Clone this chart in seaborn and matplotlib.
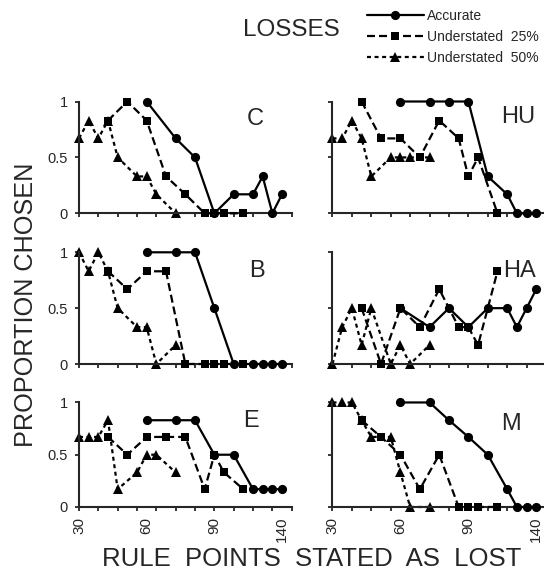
import matplotlib
matplotlib.use("Agg")
import matplotlib.pyplot as plt
import seaborn as sns

# Rule points stated for each condition (nine stimuli per condition)
accurate_pts = [60, 70, 80, 90, 100, 110, 120, 130, 140]
under25_pts = [45, 52.5, 60, 67.5, 75, 82.5, 90, 97.5, 105]
under50_pts = [30, 35, 40, 45, 50, 55, 60, 65, 70]
tick_label_pts = [30, 60, 90, 140]

# Proportion of choices, one list per subject and condition
C_accurate = [1.00, 0.67, 0.50, 0.00, 0.17, 0.17, 0.33, 0.00, 0.17]
C_under25 = [0.83, 1.00, 0.83, 0.33, 0.17, 0.00, 0.00, 0.00, 0.00]
C_under50 = [0.67, 0.83, 0.67, 0.83, 0.50, 0.33, 0.33, 0.17, 0.00]

B_accurate = [1.00, 1.00, 1.00, 0.50, 0.00, 0.00, 0.00, 0.00, 0.00]
B_under25 = [0.83, 0.67, 0.83, 0.83, 0.00, 0.00, 0.00, 0.00, 0.00]
B_under50 = [1.00, 0.83, 1.00, 0.83, 0.50, 0.33, 0.33, 0.00, 0.17]

E_accurate = [0.83, 0.83, 0.83, 0.50, 0.50, 0.17, 0.17, 0.17, 0.17]
E_under25 = [0.67, 0.50, 0.67, 0.67, 0.67, 0.17, 0.50, 0.33, 0.17]
E_under50 = [0.67, 0.67, 0.67, 0.83, 0.17, 0.33, 0.50, 0.50, 0.33]

HU_accurate = [1.00, 1.00, 1.00, 1.00, 0.33, 0.17, 0.00, 0.00, 0.00]
HU_under25 = [1.00, 0.67, 0.67, 0.50, 0.83, 0.67, 0.33, 0.50, 0.00]
HU_under50 = [0.67, 0.67, 0.83, 0.67, 0.33, 0.50, 0.50, 0.50, 0.50]

HA_accurate = [0.50, 0.33, 0.50, 0.33, 0.50, 0.50, 0.33, 0.50, 0.67]
HA_under25 = [0.50, 0.00, 0.50, 0.33, 0.67, 0.33, 0.33, 0.17, 0.83]
HA_under50 = [0.00, 0.33, 0.50, 0.17, 0.50, 0.00, 0.17, 0.00, 0.17]

M_accurate = [1.00, 1.00, 0.83, 0.67, 0.50, 0.17, 0.00, 0.00, 0.00]
M_under25 = [0.83, 0.67, 0.50, 0.17, 0.50, 0.00, 0.00, 0.00, 0.00]
M_under50 = [1.00, 1.00, 1.00, 0.83, 0.67, 0.67, 0.33, 0.00, 0.00]

subjects = ["C", "HU", "B", "HA", "E", "M"]
series_names = ["Accurate", "Understated  25%", "Understated  50%"]
panel_data = {
    "C": (C_accurate, C_under25, C_under50),
    "B": (B_accurate, B_under25, B_under50),
    "E": (E_accurate, E_under25, E_under50),
    "HU": (HU_accurate, HU_under25, HU_under50),
    "HA": (HA_accurate, HA_under25, HA_under50),
    "M": (M_accurate, M_under25, M_under50),
}

# The x axis is ordinal: every distinct stated value gets one slot
levels = sorted(set(accurate_pts) | set(under25_pts) | set(under50_pts))
slot = {v: i for i, v in enumerate(levels)}

sns.set_style("ticks")
plt.rcParams["font.family"] = ["Liberation Sans", "DejaVu Sans"]

fig = plt.figure(figsize=(5.44, 5.80), dpi=100)

col_x = [0.1452, 0.6112]
col_w = [0.391, 0.3925]
row_y = [(0.6322, 0.1928), (0.3724, 0.1926), (0.1259, 0.1802)]
label_xy = {"C": (18.2, 0.84), "B": (18.4, 0.83), "E": (17.8, 0.82),
            "HU": (19.1, 0.865), "HA": (19.3, 0.83), "M": (18.4, 0.79)}

# drawing order: triangles, circles, squares on top
styles = {
    0: dict(marker="o", markersize=6.6, linestyle="-", zorder=3),
    1: dict(marker="s", markersize=6.0, linestyle=(0, (3.6, 1.8)), zorder=4),
    2: dict(marker="^", markersize=7.2, linestyle=(0, (1.8, 1.6)), zorder=2),
}
xs = [accurate_pts, under25_pts, under50_pts]

legend_handles = []
for k, subj in enumerate(subjects):
    r, c = divmod(k, 2)
    b, h = row_y[r]
    ax = fig.add_axes([col_x[c], b, col_w[c], h])
    ax.xaxis.remove_overlapping_locs = False
    vals = panel_data[subj]
    for s in (2, 0, 1):
        sns.lineplot(x=[slot[v] for v in xs[s]], y=vals[s], ax=ax,
                     color="black", linewidth=1.6, markeredgewidth=0,
                     estimator=None, legend=False, clip_on=False,
                     **styles[s])
        if k == 0:
            legend_handles.append((s, ax.lines[-1]))
    ax.set_xlim(0, len(levels))
    ax.set_ylim(0, 1)
    for side in ("top", "right"):
        ax.spines[side].set_visible(False)
    ax.spines["left"].set_bounds(0, 1)
    ax.spines["bottom"].set_bounds(0, len(levels))
    ax.spines["left"].set_linewidth(1.5)
    ax.spines["bottom"].set_linewidth(1.5)
    ax.set_xticks(range(0, len(levels) + 1, 2))
    ax.set_xticklabels([])
    ax.set_xticks([slot[v] for v in tick_label_pts], minor=True)
    if r == 2:
        ax.set_xticklabels([str(v) for v in tick_label_pts], minor=True,
                           rotation=90, fontsize=11)
    else:
        ax.set_xticklabels([], minor=True)
    ax.tick_params(axis="x", which="major", length=3, width=1.3,
                   direction="out")
    ax.tick_params(axis="x", which="minor", length=0, pad=7)
    ax.set_yticks([0, 0.5, 1])
    if c == 0:
        ax.set_yticklabels(["0", "0.5", "1"], fontsize=10.5)
    else:
        ax.set_yticklabels([])
    ax.tick_params(axis="y", length=3, width=1.3, pad=5)
    ax.set_xlabel("")
    ax.set_ylabel("")
    ax.patch.set_alpha(0)
    lx, ly = label_xy[subj]
    ax.text(lx, ly, subj, ha="center", va="center", fontsize=17)

legend_handles.sort(key=lambda t: t[0])
fig.legend([hnd for _, hnd in legend_handles], series_names,
           loc="upper left", bbox_to_anchor=(366.7 / 544, 1 - 9 / 580),
           frameon=False, fontsize=10, handlelength=4.1,
           handletextpad=0.25, labelspacing=0.5, borderpad=0,
           borderaxespad=0, numpoints=1)

fig.text(291.5 / 544, 1 - 30.5 / 580, "LOSSES", ha="center", va="center",
         fontsize=17.5)
fig.text(26 / 544, 0.474, "PROPORTION CHOSEN", rotation=90, ha="center",
         va="center", fontsize=18.2)
fig.text(311.5 / 544, 1 - 559 / 580, "RULE  POINTS  STATED  AS  LOST",
         ha="center", va="center", fontsize=18.5)

fig.savefig("out.png", dpi=100)
